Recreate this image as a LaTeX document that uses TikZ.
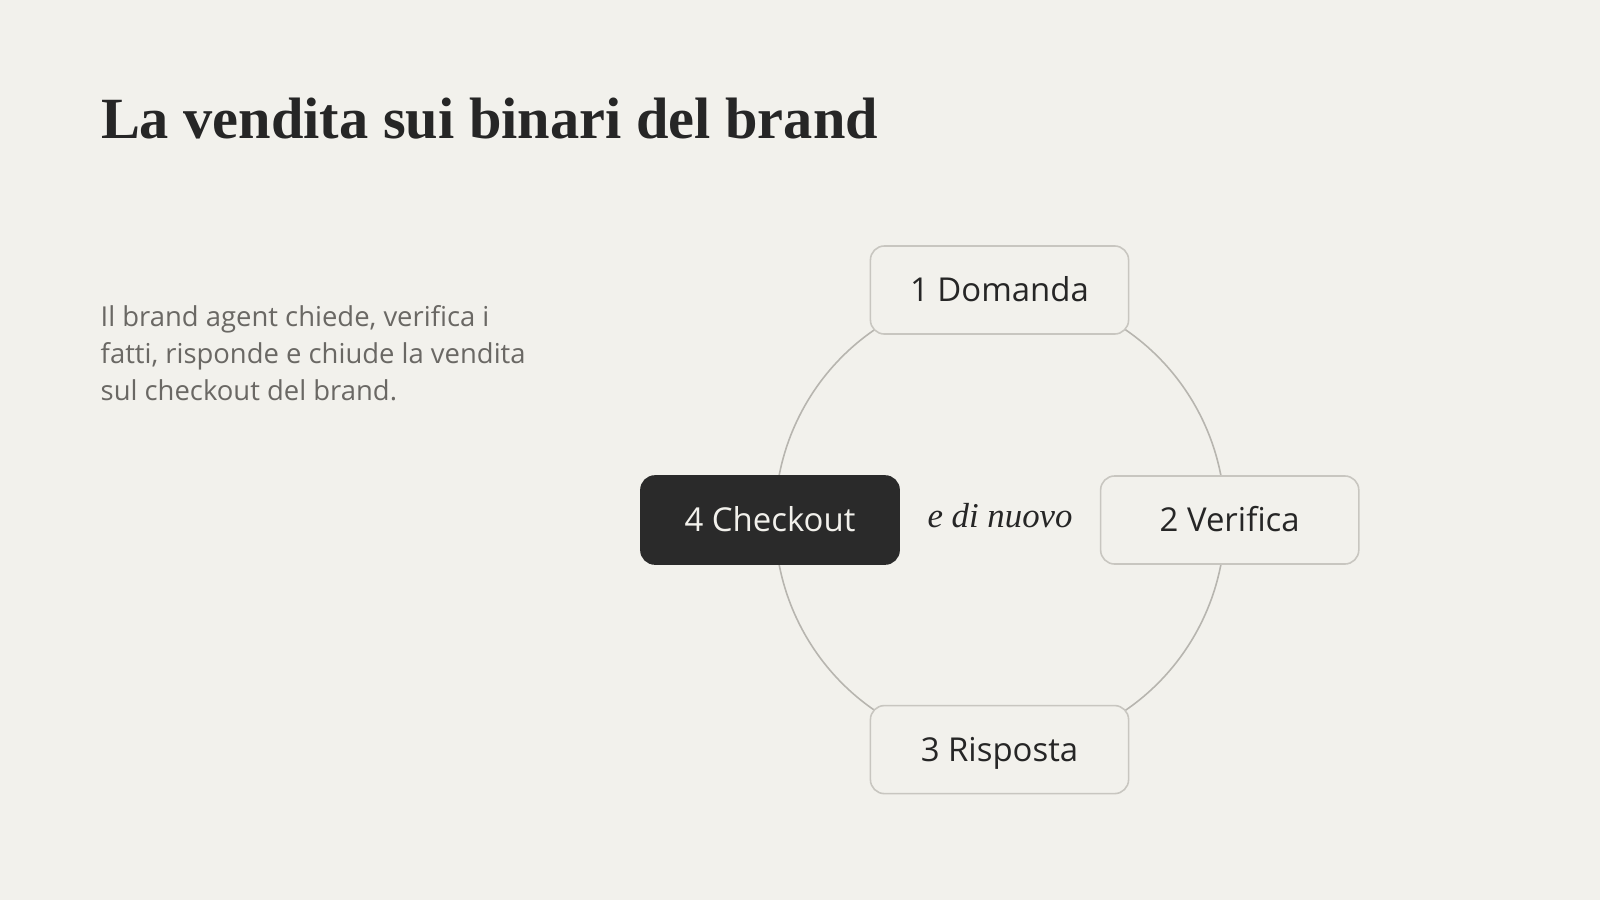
\documentclass[tikz,border=0pt]{standalone}
\usepackage{fontspec}
\setmainfont{Liberation Serif}
\setsansfont{Open Sans}
\usepackage{xcolor}
\definecolor{background}{HTML}{F2F1EC}
\definecolor{ink}{HTML}{262626}
\definecolor{greytext}{HTML}{6A6864}
\definecolor{boxline}{HTML}{C8C6C0}
\definecolor{ringline}{HTML}{B7B5AF}
\definecolor{darkbox}{HTML}{2A2A2A}
\usepackage{tikz}
\usetikzlibrary{positioning}

\begin{document}
\begin{tikzpicture}[x=0.01cm,y=-0.01cm,every node/.style={inner sep=0,outer sep=0},
    stepbox/.style={draw=boxline,line width=0.45pt,fill=background,rounded corners=0.14cm,
        minimum width=2.58cm,minimum height=0.88cm,text=ink,
        font=\sffamily\fontsize{9.36}{11}\selectfont,text height=0.235cm,text depth=0pt},
    stepdark/.style={stepbox,draw=darkbox,fill=darkbox,text=background}]
    \fill[background] (0,0) rectangle (1600,900);
    \node (T) [anchor=base west,font=\bfseries\fontsize{16.6}{20}\selectfont,text=ink] at (101,138.3)
        {La vendita sui binari del brand};
    \node (D) [anchor=base west,align=left,font=\sffamily\fontsize{7.8}{10.47}\selectfont,text=greytext] at (100.7,400.5)
        {Il brand agent chiede, verifica i\\fatti, risponde e chiude la vendita\\sul checkout del brand.};
    \node (C) [anchor=base,font=\itshape\fontsize{9.9}{12}\selectfont,text=ink] at (1000,527.8) {e di nuovo};
    \coordinate (O) at (1000,520);
    \draw[ringline,line width=0.45pt] (O) ellipse [x radius=2.25cm,y radius=2.29cm];
    \node (S1) [stepbox] at (999.5,290) {1 Domanda};
    \node (S2) [stepbox] at (1229.7,520) {2 Verifica};
    \node (S3) [stepbox] at (999.5,749.6) {3 Risposta};
    \node (S4) [stepdark] at (770,520) {4 Checkout};
\end{tikzpicture}
\end{document}
